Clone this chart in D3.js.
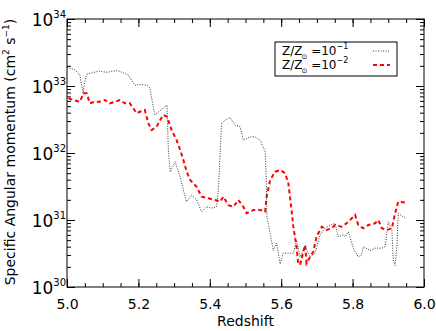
<!DOCTYPE html>
<html><head><meta charset="utf-8">
<script src="https://cdn.jsdelivr.net/npm/d3@7"></script>
<style>
html,body{margin:0;padding:0;background:#fff;}
svg{display:block;}
text{font-family:"DejaVu Sans",sans-serif;fill:#000;}
</style></head>
<body>
<svg id="c" width="436" height="331"></svg>
<script>
// ---- data ----
const xTicks = [5.0, 5.2, 5.4, 5.6, 5.8, 6.0];
const yTickExps = [30, 31, 32, 33, 34];
const seriesNames = ["Z/Z\u2299 =10^-1", "Z/Z\u2299 =10^-2"];

const z1 = [5.000,5.022,5.036,5.045,5.050,5.056,5.075,5.092,5.110,5.125,5.143,5.160,5.171,5.190,5.205,5.224,5.232,5.246,5.280,5.284,5.289,5.303,5.317,5.326,5.335,5.349,5.363,5.377,5.391,5.405,5.419,5.424,5.433,5.443,5.457,5.471,5.485,5.494,5.513,5.527,5.541,5.555,5.558,5.560,5.569,5.578,5.587,5.592,5.597,5.606,5.620,5.634,5.643,5.653,5.667,5.681,5.695,5.709,5.723,5.741,5.751,5.760,5.774,5.780,5.788,5.802,5.816,5.825,5.830,5.849,5.863,5.882,5.891,5.900,5.910,5.914,5.919,5.924,5.928,5.947];
const j1 = [1.9e33,1.74e33,1.46e33,7.9e32,1.2e33,1.5e33,1.6e33,1.67e33,1.6e33,1.65e33,1.7e33,1.55e33,1.46e33,1.03e33,1.05e33,1.03e33,9.3e32,3.7e32,5.2e32,1.1e32,5.2e31,7.4e31,4.4e31,2.8e31,1.87e31,2.35e31,2.0e31,1.33e31,1.58e31,1.5e31,1.58e31,2.8e31,2.76e32,3.1e32,3.38e32,2.6e32,2.46e32,1.55e32,1.74e32,1.74e32,1.55e32,1.05e32,4.4e31,1.12e31,6.3e30,3.5e30,4.5e30,3.2e30,2.2e30,3.2e30,3.2e30,3.2e30,5.0e30,2.8e30,4.0e30,2.8e30,3.2e30,6.0e30,7.6e30,8.5e30,8.9e30,5.6e30,6.0e30,5.6e30,6.7e30,3.8e30,2.8e30,3.0e30,4.0e30,3.5e30,3.8e30,3.8e30,4.0e30,9.4e30,7.1e30,2.5e30,2.1e30,4.0e30,1.26e31,1.07e31];

const z2 = [5.004,5.017,5.036,5.046,5.055,5.064,5.078,5.092,5.106,5.120,5.134,5.148,5.162,5.176,5.195,5.204,5.218,5.228,5.237,5.251,5.261,5.270,5.280,5.293,5.307,5.317,5.326,5.335,5.345,5.363,5.377,5.396,5.415,5.429,5.438,5.452,5.466,5.480,5.494,5.503,5.522,5.541,5.555,5.559,5.569,5.583,5.597,5.611,5.620,5.629,5.634,5.643,5.647,5.653,5.662,5.667,5.671,5.681,5.690,5.699,5.714,5.727,5.741,5.751,5.769,5.783,5.793,5.807,5.816,5.830,5.844,5.863,5.872,5.882,5.896,5.910,5.919,5.928,5.952];
const j2 = [6.55e32,6.18e32,5.83e32,7.78e32,7.78e32,5.52e32,5.83e32,5.83e32,6.18e32,5.52e32,5.8e32,6.18e32,5.52e32,5.52e32,3.92e32,4.13e32,4.38e32,2.77e32,2.2e32,2.47e32,3.11e32,3.69e32,3.48e32,2.2e32,1.56e32,1.11e32,7.87e31,5.3e31,3.95e31,3.14e31,2.23e31,2.11e31,1.99e31,1.88e31,2.23e31,1.67e31,1.58e31,1.99e31,1.58e31,1.26e31,1.41e31,1.41e31,1.33e31,2.2e31,3.95e31,5.26e31,5.57e31,4.98e31,3.53e31,1.41e31,7.94e30,3.98e30,2.39e30,2.13e30,3.36e30,4.24e30,2.26e30,2.83e30,3.36e30,5.64e30,7.94e30,7.1e30,7.52e30,8.41e30,7.94e30,8.93e30,1.0e31,1.19e31,8.41e30,7.52e30,8.41e30,8.93e30,1.0e31,7.52e30,7.1e30,7.52e30,1.26e31,1.88e31,1.8e31];

// ---- layout ----
const L = 67, R = 424, T = 19, B = 287;
const svg = d3.select("#c");
const x = d3.scaleLinear().domain([5, 6]).range([L, R]);
const y = d3.scaleLog().domain([1e30, 1e34]).range([B, T]);

const minorX = d3.range(5.0, 6.0001, 0.05).map(v => +v.toFixed(2));
const minorY = [];
for (let e = 30; e < 34; e++) for (let m = 2; m <= 9; m++) minorY.push(m * Math.pow(10, e));

function tickStyle(g){ g.select(".domain").remove(); g.selectAll("line").attr("stroke","#000").attr("stroke-width",1); }

// minor ticks
svg.append("g").attr("transform",`translate(0,${B})`).call(d3.axisBottom(x).tickValues(minorX).tickSize(-4).tickFormat("")).call(tickStyle);
svg.append("g").attr("transform",`translate(0,${T})`).call(d3.axisTop(x).tickValues(minorX).tickSize(-4).tickFormat("")).call(tickStyle);
svg.append("g").attr("transform",`translate(${L},0)`).call(d3.axisLeft(y).tickValues(minorY).tickSize(-4).tickFormat("")).call(tickStyle);
svg.append("g").attr("transform",`translate(${R},0)`).call(d3.axisRight(y).tickValues(minorY).tickSize(-4).tickFormat("")).call(tickStyle);
// major ticks
const gxb = svg.append("g").attr("transform",`translate(0,${B})`).call(d3.axisBottom(x).tickValues(xTicks).tickSize(-8).tickPadding(12).tickFormat(d3.format(".1f"))).call(tickStyle);
gxb.selectAll("text").attr("font-size",14).attr("font-family","DejaVu Sans, sans-serif");
svg.append("g").attr("transform",`translate(0,${T})`).call(d3.axisTop(x).tickValues(xTicks).tickSize(-8).tickFormat("")).call(tickStyle);
const yMaj = yTickExps.map(e => Math.pow(10, e));
svg.append("g").attr("transform",`translate(${L},0)`).call(d3.axisLeft(y).tickValues(yMaj).tickSize(-8).tickFormat("")).call(tickStyle);
svg.append("g").attr("transform",`translate(${R},0)`).call(d3.axisRight(y).tickValues(yMaj).tickSize(-8).tickFormat("")).call(tickStyle);

// y tick labels with superscripts
yTickExps.forEach(e => {
  const t = svg.append("text").attr("x", L - 1).attr("y", y(Math.pow(10, e)) + 7)
    .attr("text-anchor","end").attr("font-size",17);
  t.append("tspan").text("10");
  t.append("tspan").attr("dy",-8).attr("font-size",10).text(String(e));
});

// frame
svg.append("rect").attr("x",L).attr("y",T).attr("width",R-L).attr("height",B-T)
  .attr("fill","none").attr("stroke","#000").attr("stroke-width",1);

// curves
const line = d3.line().x(d => x(d[0])).y(d => y(d[1]));
svg.append("clipPath").attr("id","pc").append("rect").attr("x",L).attr("y",T).attr("width",R-L).attr("height",B-T);
const data1 = z1.map((v,i)=>[v,j1[i]]);
const data2 = z2.map((v,i)=>[v,j2[i]]);
svg.append("path").attr("d",line(data2)).attr("fill","none").attr("stroke","#ff0000")
  .attr("stroke-width",2).attr("stroke-dasharray","4,3").attr("clip-path","url(#pc)");
svg.append("path").attr("d",line(data1)).attr("fill","none").attr("stroke","#333")
  .attr("stroke-width",1).attr("stroke-dasharray","1,1.5").attr("clip-path","url(#pc)");

// axis titles
svg.append("text").attr("x",(L+R)/2).attr("y",326).attr("text-anchor","middle").attr("font-size",14).text("Redshift");
const yt = svg.append("text").attr("transform",`translate(15,152) rotate(-90)`).attr("text-anchor","middle").attr("font-size",14);
yt.append("tspan").text("Specific Angular momentum (cm");
yt.append("tspan").attr("dy",-6).attr("font-size",9).text("2");
yt.append("tspan").attr("dy",6).text(" s");
yt.append("tspan").attr("dy",-6).attr("font-size",9).text("\u22121");
yt.append("tspan").attr("dy",6).text(")");

// legend
const lg = svg.append("g");
lg.append("rect").attr("x",275).attr("y",42).attr("width",122).attr("height",34).attr("fill","#fff").attr("stroke","#000").attr("stroke-width",1);
const styles = [{c:"#333",w:1,d:"1,1.5"},{c:"#ff0000",w:2,d:"4,3"}];
seriesNames.forEach((nm,i) => {
  const yy = 55 + i*14;
  const parts = nm.match(/^(Z\/Z)(.)(\s*=10\^)(-?\d+)$/);
  const t = lg.append("text").attr("x",282).attr("y",yy).attr("font-size",12);
  t.append("tspan").text(parts[1]);
  t.append("tspan").attr("dy",4).attr("dx",-1).attr("font-size",7).text(parts[2]);
  t.append("tspan").attr("dy",-4).text(" =10");
  t.append("tspan").attr("dy",-6).attr("font-size",8).text(parts[4].replace("-","\u2212"));
  lg.append("line").attr("x1",373).attr("x2",390).attr("y1",yy-4).attr("y2",yy-4)
    .attr("stroke",styles[i].c).attr("stroke-width",styles[i].w).attr("stroke-dasharray",styles[i].d);
});
</script>
</body></html>
